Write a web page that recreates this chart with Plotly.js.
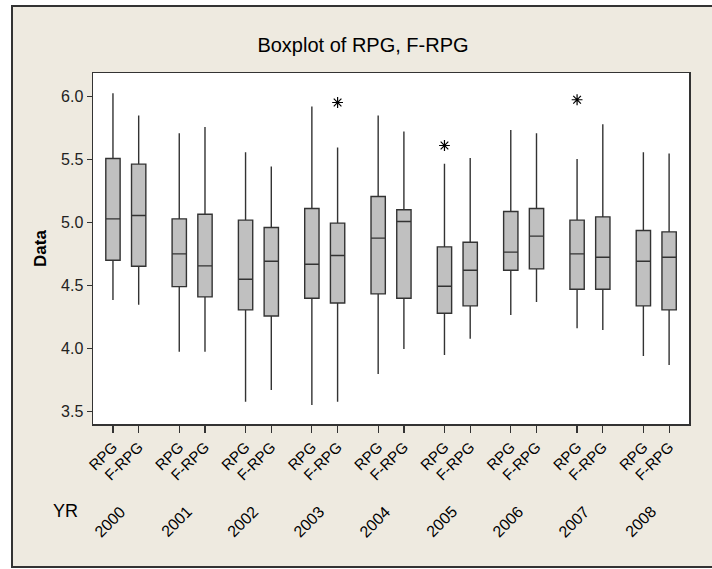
<!DOCTYPE html>
<html>
<head>
<meta charset="utf-8">
<script src="https://cdn.plot.ly/plotly-3.0.1.min.js"></script>
<style>
  html, body { margin: 0; padding: 0; background: #ffffff; width: 712px; height: 569px; overflow: hidden; }
  #frame { position: absolute; left: 11px; top: 5px; width: 720px; height: 563px; box-sizing: border-box;
           background: #EEEAE0; border-left: 2px solid #333; border-top: 2px solid #333; border-bottom: 2px solid #333; }
  #chart { position: absolute; left: 0; top: 0; width: 712px; height: 569px; }
</style>
</head>
<body>
<div id="frame"></div>
<div id="chart"></div>
<script>
// ---- data ----
const years = ['2000','2001','2002','2003','2004','2005','2006','2007','2008'];
const seriesNames = ['RPG', 'F-RPG'];

const rpgLow    = [4.386, 3.976, 3.579, 3.553, 3.799, 3.950, 4.267, 4.161, 3.942];
const rpgQ1     = [4.701, 4.492, 4.307, 4.399, 4.434, 4.280, 4.622, 4.471, 4.339];
const rpgMedian = [5.029, 4.751, 4.550, 4.669, 4.876, 4.495, 4.765, 4.751, 4.693];
const rpgQ3     = [5.508, 5.029, 5.019, 5.111, 5.206, 4.807, 5.087, 5.019, 4.937];
const rpgHigh   = [6.026, 5.709, 5.558, 5.921, 5.849, 5.466, 5.733, 5.503, 5.558];

const frpgLow    = [4.347, 3.976, 3.672, 3.579, 3.997, 4.079, 4.370, 4.148, 3.870];
const frpgQ1     = [4.653, 4.410, 4.259, 4.362, 4.399, 4.339, 4.632, 4.471, 4.307];
const frpgMedian = [5.056, 4.656, 4.693, 4.738, 5.008, 4.622, 4.892, 4.725, 4.725];
const frpgQ3     = [5.463, 5.066, 4.960, 4.995, 5.101, 4.844, 5.111, 5.045, 4.926];
const frpgHigh   = [5.849, 5.757, 5.444, 5.595, 5.722, 5.511, 5.709, 5.780, 5.548];

// outliers: [year, series, value]
const outlierYears  = ['2005', '2007', '2003'];
const outlierSeries = ['RPG', 'RPG', 'F-RPG'];
const outlierValues = [5.611, 5.974, 5.952];

// ---- positions on the x scale ----
const offset = 0.194;
function pos(year, series) {
  const g = years.indexOf(year) + 1;
  return series === 'RPG' ? g - offset : g + offset;
}

const xs = [], q1 = [], med = [], q3 = [], lo = [], hi = [];
const tickvals = [], ticktext = [];
years.forEach((y, i) => {
  xs.push(pos(y, 'RPG'));  q1.push(rpgQ1[i]);  med.push(rpgMedian[i]);  q3.push(rpgQ3[i]);  lo.push(rpgLow[i]);  hi.push(rpgHigh[i]);
  xs.push(pos(y, 'F-RPG')); q1.push(frpgQ1[i]); med.push(frpgMedian[i]); q3.push(frpgQ3[i]); lo.push(frpgLow[i]); hi.push(frpgHigh[i]);
  tickvals.push(pos(y, 'RPG'), pos(y, 'F-RPG'));
  ticktext.push(seriesNames[0], seriesNames[1]);
});

const boxTrace = {
  type: 'box',
  x: xs, q1: q1, median: med, q3: q3, lowerfence: lo, upperfence: hi,
  width: 0.216,
  whiskerwidth: 0,
  boxpoints: false,
  fillcolor: '#C0C0C0',
  line: { color: '#333333', width: 1.4 },
  hoverinfo: 'skip',
  showlegend: false
};

const outlierTrace = {
  type: 'scatter', mode: 'markers',
  x: outlierYears.map((y, i) => pos(y, outlierSeries[i])),
  y: outlierValues,
  marker: { symbol: 'asterisk-open', size: 9, color: '#000', line: { color: '#000', width: 1.2 } },
  hoverinfo: 'skip', showlegend: false
};

const font = 'Liberation Sans, Arial, sans-serif';
const narrow = 'Liberation Sans Narrow, Arial Narrow, sans-serif';

const L = 93, R = 689, T = 73, B = 424;   // plot area in page pixels

const annotations = years.map((y, i) => ({
  x: i + 1 + 0.09, y: (B - 500) / (B - T), xref: 'x', yref: 'paper',
  text: y, textangle: -45, showarrow: false,
  xanchor: 'right', yanchor: 'top',
  font: { family: font, size: 16, color: '#000' }
}));
annotations.push({
  x: (65.5 - L) / (R - L), y: (B - 511) / (B - T), xref: 'paper', yref: 'paper',
  text: 'YR', showarrow: false, xanchor: 'center', yanchor: 'middle',
  font: { family: narrow, size: 18, color: '#000' }
});

const layout = {
  width: 712, height: 569,
  margin: { l: L, r: 712 - R, t: T, b: 569 - B },
  paper_bgcolor: 'rgba(0,0,0,0)',
  plot_bgcolor: '#ffffff',
  title: {
    text: 'Boxplot of RPG, F-RPG',
    x: 363 / 712, xref: 'container', xanchor: 'center',
    y: 1 - 45 / 569, yref: 'container', yanchor: 'middle',
    font: { family: font, size: 20, color: '#000' }
  },
  xaxis: {
    range: [0.505, 9.494],
    tickvals: tickvals, ticktext: ticktext, tickangle: -45,
    ticks: 'outside', ticklen: 7, tickcolor: '#333', tickwidth: 1.2,
    showline: true, mirror: true, linecolor: '#333', linewidth: 1.5,
    showgrid: false, zeroline: false,
    tickfont: { family: font, size: 15, color: '#000' }
  },
  yaxis: {
    range: [3.402, 6.186],
    tickvals: [3.5, 4.0, 4.5, 5.0, 5.5, 6.0], tickformat: '.1f',
    ticks: 'outside', ticklen: 5, tickcolor: '#333', tickwidth: 1.2,
    showline: true, mirror: true, linecolor: '#333', linewidth: 1.5,
    showgrid: false, zeroline: false,
    tickfont: { family: font, size: 16, color: '#222' },
    title: { text: '<b>Data</b>', standoff: 10, font: { family: font, size: 17, color: '#000' } }
  },
  annotations: annotations
};

Plotly.newPlot('chart', [boxTrace, outlierTrace], layout, { staticPlot: true, displayModeBar: false });
</script>
</body>
</html>
